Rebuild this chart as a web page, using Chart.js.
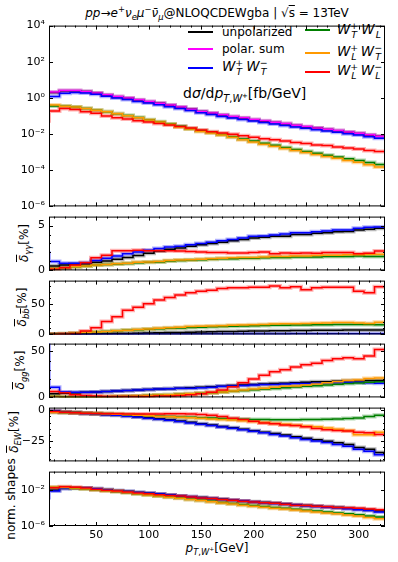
<!DOCTYPE html>
<html>
<head>
<meta charset="utf-8">
<script src="https://cdn.jsdelivr.net/npm/chart.js@4.4.1/dist/chart.umd.min.js"></script>
<style>
  body { margin: 0; background: #fff; }
  #fig { position: relative; width: 398px; height: 562px; overflow: hidden; font-family: 'DejaVu Sans', sans-serif; color: #000; }
  #fig canvas { position: absolute; left: 0; }
  .txt { position: absolute; white-space: nowrap; line-height: 1; transform: translateY(-50%); }
  .math { font-size: 13.5px; }
  sub, sup { font-size: 70%; line-height: 0; }
  .ylab { position: absolute; white-space: nowrap; line-height: 1; transform: translate(-50%, -50%) rotate(-90deg); font-size: 12px; }
  .legline { position: absolute; height: 2px; width: 25px; }
</style>
</head>
<body>
<div id="fig">
  <div class="txt" style="left:49px; width:336px; top:13px; text-align:center; font-size:12px;">
    <i>pp</i>→<i>e</i><sup>+</sup><i>ν</i><sub><i>e</i></sub><i>μ</i><sup>−</sup><i>ν̄</i><sub><i>μ</i></sub>@NLOQCDEWgba | √<span style="text-decoration:overline">s</span> = 13TeV
  </div>

  <div class="legline" style="left:188px; top:31px; background:#000000;"></div>
  <div class="txt" style="left:222px; top:32px; font-size:12px;">unpolarized</div>
  <div class="legline" style="left:188px; top:48px; background:#ff00ff;"></div>
  <div class="txt" style="left:222px; top:49px; font-size:12px;">polar. sum</div>
  <div class="legline" style="left:188px; top:67px; background:#0000ff;"></div>
  <div class="txt math" style="left:222px; top:67px;"><i>W</i><sup>+</sup><sub style="margin-left:-7px"><i>T</i></sub> <i>W</i><sup>−</sup><sub style="margin-left:-7px"><i>T</i></sub></div>
  <div class="legline" style="left:305px; top:29px; background:#007f00;"></div>
  <div class="txt math" style="left:337px; top:30px;"><i>W</i><sup>+</sup><sub style="margin-left:-7px"><i>T</i></sub> <i>W</i><sup>−</sup><sub style="margin-left:-7px"><i>L</i></sub></div>
  <div class="legline" style="left:305px; top:52px; background:#ff9900;"></div>
  <div class="txt math" style="left:337px; top:52px;"><i>W</i><sup>+</sup><sub style="margin-left:-7px"><i>L</i></sub> <i>W</i><sup>−</sup><sub style="margin-left:-7px"><i>T</i></sub></div>
  <div class="legline" style="left:305px; top:71px; background:#ff0000;"></div>
  <div class="txt math" style="left:337px; top:71px;"><i>W</i><sup>+</sup><sub style="margin-left:-7px"><i>L</i></sub> <i>W</i><sup>−</sup><sub style="margin-left:-7px"><i>L</i></sub></div>

  <div class="txt" style="left:183px; top:93px; font-size:14px;">d<i>σ</i>/d<i>p</i><sub><i>T</i>,<i>W</i><sup>+</sup></sub>[fb/GeV]</div>

  <div class="ylab" style="left:24px; top:243px;"><span style="text-decoration:overline"><i>δ</i></span><sub><i>γγ</i></sub>[%]</div>
  <div class="ylab" style="left:22px; top:307px;"><span style="text-decoration:overline"><i>δ</i></span><sub><i>b</i><span style="text-decoration:overline"><i>b</i></span></sub>[%]</div>
  <div class="ylab" style="left:20px; top:370px;"><span style="text-decoration:overline"><i>δ</i></span><sub><i>gg</i></sub>[%]</div>
  <div class="ylab" style="left:14px; top:432px;"><span style="text-decoration:overline"><i>δ</i></span><sub><i>EW</i></sub>[%]</div>
  <div class="ylab" style="left:11px; top:499px;">norm. shapes</div>

  <div class="txt" style="left:49px; width:336px; top:548px; text-align:center; font-size:12px;"><i>p</i><sub><i>T</i>,<i>W</i><sup>+</sup></sub>[GeV]</div>
</div>
<script>
// bin edges in GeV (first bin lies left of the visible range)
const binEdges = [-5, 5, 15, 25, 35, 45, 55, 65, 75, 85, 95, 105, 115, 125, 135, 145, 155, 165,
  175, 185, 195, 205, 215, 225, 235, 245, 255, 265, 275, 285, 295, 305, 315, 325];
const xMajor = [50, 100, 150, 200, 250, 300];
const xMinor = [10, 20, 30, 40, 60, 70, 80, 90, 110, 120, 130, 140, 160, 170, 180, 190,
  210, 220, 230, 240, 260, 270, 280, 290, 310, 320];

const colors = {
  unpol: '#000000', polSum: '#ff00ff', TT: '#0000ff', TL: '#007f00', LT: '#ff9900', LL: '#ff0000'
};
const bands = {
  unpol: 'rgba(0,0,0,0.28)', polSum: 'rgba(255,0,255,0.3)', TT: 'rgba(0,0,255,0.3)',
  TL: 'rgba(0,127,0,0.3)', LT: 'rgba(255,153,0,0.35)', LL: 'rgba(255,0,0,0.3)'
};

// dsigma/dpT [fb/GeV]
const xsUnpol = [2.0, 2.0, 2.5, 2.5, 2.25, 1.85, 1.45, 1.17, 0.97, 0.76, 0.62, 0.5, 0.39, 0.3, 0.235, 0.175,
  0.143, 0.114, 0.092, 0.077, 0.063, 0.052, 0.044, 0.037, 0.030, 0.025, 0.0214, 0.018, 0.0154, 0.0128, 0.0109, 0.009, 0.0075];
const xsPolSum = [2.1, 2.1, 2.6, 2.6, 2.3, 1.9, 1.5, 1.2, 1.0, 0.78, 0.64, 0.51, 0.4, 0.31, 0.24, 0.18,
  0.147, 0.117, 0.095, 0.079, 0.065, 0.054, 0.045, 0.038, 0.031, 0.026, 0.022, 0.0185, 0.0158, 0.0132, 0.0112, 0.0093, 0.0077];
const xsTT = [1.2, 1.2, 1.8, 2.0, 1.9, 1.6, 1.25, 1.0, 0.82, 0.64, 0.52, 0.42, 0.33, 0.26, 0.2, 0.15,
  0.12, 0.095, 0.077, 0.064, 0.053, 0.044, 0.036, 0.03, 0.025, 0.021, 0.0175, 0.0148, 0.0125, 0.0105, 0.0088, 0.0072, 0.0058];
const xsTL = [0.36, 0.36, 0.35, 0.31, 0.26, 0.21, 0.17, 0.135, 0.105, 0.082, 0.063, 0.048, 0.036, 0.027, 0.02, 0.0152,
  0.0123, 0.0096, 0.0072, 0.0054, 0.0041, 0.0031, 0.0024, 0.0018, 0.0014, 0.0011, 0.00087, 0.00068, 0.00054, 0.00043, 0.00035, 0.00027, 0.00021];
const xsLT = [0.4, 0.4, 0.35, 0.31, 0.26, 0.21, 0.17, 0.134, 0.104, 0.081, 0.061, 0.047, 0.035, 0.025, 0.019, 0.014,
  0.0114, 0.0089, 0.0066, 0.0049, 0.0037, 0.0027, 0.0021, 0.0016, 0.00124, 0.00097, 0.00075, 0.00058, 0.00046, 0.00035, 0.00028, 0.0002, 0.00015];
const xsLL = [0.054, 0.19, 0.26, 0.23, 0.17, 0.14, 0.1, 0.081, 0.069, 0.054, 0.046, 0.038, 0.032, 0.026, 0.0215, 0.0166,
  0.0135, 0.0114, 0.0097, 0.0082, 0.0066, 0.0056, 0.0048, 0.0042, 0.0034, 0.003, 0.0025, 0.0023, 0.0019, 0.0017, 0.0015, 0.00124, 0.0011];

// photon-induced [%]
const gaUnpol = [0.5, 0.5, 0.6, 0.7, 0.75, 0.9, 1.05, 1.25, 1.45, 1.65, 1.9, 2.15, 2.35, 2.5, 2.7, 2.85, 3.0,
  3.15, 3.3, 3.45, 3.6, 3.7, 3.8, 3.8, 4.0, 4.0, 4.15, 4.2, 4.3, 4.35, 4.5, 4.6, 4.7];
const gaTT = [1.9, 1.0, 0.8, 0.8, 0.85, 1.1, 1.35, 1.6, 1.85, 2.05, 2.25, 2.45, 2.6, 2.7, 2.85, 3.0, 3.15,
  3.3, 3.45, 3.6, 3.8, 3.85, 3.95, 4.05, 4.2, 4.2, 4.3, 4.4, 4.5, 4.5, 4.7, 4.8, 4.85];
const gaTL = [0.2, 0.2, 0.3, 0.4, 0.5, 0.6, 0.65, 0.72, 0.78, 0.85, 0.9, 0.95, 1.05, 1.1, 1.15, 1.2, 1.25,
  1.3, 1.3, 1.35, 1.35, 1.4, 1.45, 1.45, 1.5, 1.5, 1.5, 1.55, 1.55, 1.55, 1.6, 1.55, 1.55];
const gaLT = [0.2, 0.2, 0.3, 0.4, 0.5, 0.6, 0.65, 0.75, 0.8, 0.9, 0.95, 1.0, 1.1, 1.15, 1.2, 1.25, 1.3,
  1.35, 1.4, 1.45, 1.45, 1.5, 1.55, 1.55, 1.6, 1.6, 1.65, 1.7, 1.7, 1.75, 1.75, 1.8, 1.8];
const gaLL = [0.14, 0.14, 0.3, 0.6, 0.85, 1.4, 1.7, 2.2, 2.2, 2.25, 2.2, 2.2, 2.2, 2.15, 2.1, 2.05, 2.0,
  2.0, 1.95, 1.95, 2.0, 2.05, 1.85, 1.95, 1.9, 1.95, 1.9, 2.0, 2.0, 2.0, 1.85, 1.9, 2.15];

// bottom-induced [%]
const bbUnpol = [0, 0, 0, 0.3, 0.5, 0.8, 1, 1.3, 1.6, 2, 2.3, 2.6, 3, 3.3, 3.6, 4, 4.3,
  4.6, 5, 5.2, 5.5, 5.7, 6, 6.2, 6.4, 6.6, 6.8, 7, 7, 7.2, 7.3, 7.3, 7.4];
const bbTT = [0.1, 0.1, 0.1, 0.15, 0.2, 0.25, 0.3, 0.35, 0.4, 0.45, 0.5, 0.5, 0.55, 0.6, 0.6, 0.65, 0.7,
  0.7, 0.75, 0.75, 0.8, 0.8, 0.85, 0.85, 0.9, 0.9, 0.9, 0.95, 0.95, 1.0, 1.0, 1.0, 1.0];
const bbTL = [0.5, 0.5, 1, 2, 3, 4, 5, 6, 6.8, 7.6, 8.4, 9.2, 10, 10.7, 11.3, 12, 12.5,
  13, 13.5, 14, 14.5, 14.8, 15, 15.3, 15.5, 15.7, 16, 16, 16.2, 16.3, 16.3, 16.2, 16];
const bbLT = [0.5, 0.5, 1, 2, 3, 4, 5, 6, 7, 8, 9, 10, 11, 12, 13, 13.5, 14,
  14.5, 15, 15.5, 16, 16.5, 17, 17.5, 17.5, 18, 18.5, 19, 19.5, 19.5, 19, 18, 20];
const bbLL = [0, 0, 0.5, 1.5, 5.7, 11, 21.5, 29, 40, 45, 50.5, 57, 61, 65, 69, 71.5, 73,
  76, 77, 77, 78, 78, 80, 77, 79, 74, 77, 78, 78, 78, 71.5, 69, 79];

// gluon-induced [%]
const ggUnpol = [4, 4, 4.5, 5, 5.5, 6, 6.5, 7, 7.5, 8, 8.5, 9, 9.5, 10, 10.5, 11, 11.5,
  12, 13, 13.5, 14, 14.5, 15, 15.5, 16, 16.5, 17, 17, 17.5, 18, 18, 18.5, 18.5];
const ggTT = [60, 11, 6, 5.5, 5.5, 6, 6.5, 7, 7.5, 8, 8.5, 9, 9.5, 10, 10, 10.5, 11,
  12, 12.5, 13, 13.5, 14, 14, 14.5, 15, 15, 15.5, 16, 16, 16.5, 16.5, 16, 15.5];
const ggTL = [1, 1, 0.5, 0.5, 0.5, 0.5, 0.8, 1, 1.2, 1.5, 2, 2.5, 3, 3.5, 4, 4.5, 5,
  5.8, 6.6, 7.4, 8.2, 9, 9.8, 10.5, 11.2, 12, 12.7, 13.5, 14.2, 15, 15.7, 16.5, 17];
const ggLT = [1, 1, 0.5, 0.5, 0.5, 0.5, 0.8, 1, 1.2, 1.5, 2, 2.5, 3, 3.5, 4, 4.5, 5,
  6, 7, 8, 9, 10, 11, 12, 12.5, 13.5, 14.5, 16, 17, 18.5, 19, 20.5, 21];
const ggLL = [7, 6.5, 5, 3, 2, 1.5, 1, 1, 1, 1, 1, 1.5, 1.5, 2, 3, 4, 5.5,
  8, 11.5, 16, 20, 24, 28, 30, 33, 35.5, 37, 40, 42, 43, 42, 45, 52];

// electroweak corrections [%]
const ewUnpol = [-0.5, -0.5, -1.2, -1.8, -2.3, -2.8, -3.3, -3.8, -4.5, -5.2, -6, -6.8, -7.7, -8.7, -9.8, -11, -12,
  -13.2, -14.3, -15.5, -16.7, -17.9, -19.1, -20.3, -21.6, -23, -24.2, -25.4, -26.7, -28, -30.5, -32, -34.6];
const ewTT = [-0.8, -0.8, -1.5, -2, -2.5, -3, -3.5, -4, -4.8, -5.5, -6.5, -7.3, -8.2, -9.2, -10.3, -11.5, -12.5,
  -13.7, -14.8, -16, -17.2, -18.5, -19.8, -21, -22.5, -24, -25.2, -26.5, -28, -29.5, -32, -33.6, -36.5];
const ewTL = [-1.5, -1.5, -1.8, -2, -2.3, -2.5, -2.8, -3.2, -3.5, -4, -4.4, -4.8, -5.1, -5.4, -5.7, -6, -6.3,
  -6.6, -6.9, -7.2, -7.4, -7.6, -7.7, -7.8, -7.8, -7.6, -7.5, -7.3, -7, -6.7, -6.2, -5, -4];
const ewLT = [-1.5, -1.5, -1.8, -2, -2.3, -2.5, -2.8, -3.2, -3.5, -4, -4.5, -5, -5.3, -5.7, -6, -6.5, -7,
  -7.5, -8, -8.5, -9.2, -10, -10.7, -11.5, -12.2, -13, -13.5, -14.5, -15.5, -16.5, -20, -20, -18];
const ewLL = [-1, -1, -1.5, -2, -2.3, -2.5, -2.7, -2.8, -2.9, -3, -3, -3, -2.8, -2.8, -3, -3.4, -4,
  -5, -6.5, -7.5, -9, -10.4, -11, -12, -12.5, -13.5, -15, -16, -16.5, -17, -18, -18.5, -19.8];

// normalised shapes
const shUnpol = [0.009, 0.009, 0.015, 0.016, 0.015, 0.0126, 0.01, 0.0079, 0.0063, 0.005, 0.004, 0.0033, 0.0027, 0.0021, 0.0017, 0.0014, 0.0011,
  8.8e-4, 7.1e-4, 5.8e-4, 4.7e-4, 3.9e-4, 3.2e-4, 2.6e-4, 2.2e-4, 1.85e-4, 1.55e-4, 1.3e-4, 1.1e-4, 9e-5, 7.3e-5, 6e-5, 4.5e-5];
const shTT = [1.4e-3, 0.0071, 0.0141, 0.0158, 0.0151, 0.0126, 0.01, 0.0079, 0.0063, 0.005, 0.004, 0.0033, 0.0027, 0.0021, 0.0017, 0.0013, 0.00107,
  8.5e-4, 6.8e-4, 5.6e-4, 4.5e-4, 3.7e-4, 3.0e-4, 2.5e-4, 2.1e-4, 1.74e-4, 1.45e-4, 1.2e-4, 1.0e-4, 7.9e-5, 6.3e-5, 5.0e-5, 3.5e-5];
const shTL = [0.018, 0.018, 0.0175, 0.015, 0.0126, 0.01, 0.008, 0.0064, 0.0049, 0.0037, 0.0028, 0.0021, 0.0016, 0.0012, 9e-4, 6.9e-4, 5.3e-4,
  4.0e-4, 3.1e-4, 2.4e-4, 1.8e-4, 1.4e-4, 1.1e-4, 8.8e-5, 7e-5, 5.5e-5, 4.4e-5, 3.5e-5, 2.8e-5, 2.2e-5, 1.7e-5, 1.3e-5, 1.0e-5];
const shLT = [0.019, 0.019, 0.0178, 0.0151, 0.0126, 0.01, 0.0079, 0.0063, 0.0048, 0.0035, 0.0027, 0.002, 0.0015, 0.00112, 8.3e-4, 6.3e-4, 4.7e-4,
  3.5e-4, 2.7e-4, 2.0e-4, 1.5e-4, 1.17e-4, 9.3e-5, 7.4e-5, 5.9e-5, 4.5e-5, 3.5e-5, 2.8e-5, 2.2e-5, 1.66e-5, 1.26e-5, 8.9e-6, 6.3e-6];
const shLL = [0.0162, 0.0162, 0.0209, 0.0191, 0.0151, 0.0112, 0.0089, 0.0071, 0.0056, 0.0045, 0.0035, 0.0028, 0.0023, 0.002, 0.0016, 0.00126, 0.00105,
  8.3e-4, 6.8e-4, 5.4e-4, 4.4e-4, 3.6e-4, 3.2e-4, 2.5e-4, 2.0e-4, 1.8e-4, 1.5e-4, 1.3e-4, 1.1e-4, 1.0e-4, 8.9e-5, 7.6e-5, 6.3e-5];

const panels = [
  { top: 24, bottom: 208, type: 'logarithmic', min: 1e-6, max: 1e4,
    ticks: [1e4, 1e2, 1, 1e-2, 1e-4, 1e-6], minor: [],
    series: [['unpol', xsUnpol], ['polSum', xsPolSum], ['TT', xsTT], ['TL', xsTL], ['LT', xsLT], ['LL', xsLL]] },
  { top: 215, bottom: 272, type: 'linear', min: 0, max: 6,
    ticks: [0, 5], minor: [1, 2, 3, 4],
    series: [['unpol', gaUnpol], ['TT', gaTT], ['TL', gaTL], ['LT', gaLT], ['LL', gaLL]] },
  { top: 279, bottom: 336, type: 'linear', min: 0, max: 89,
    ticks: [0, 50], minor: [10, 20, 30, 40, 60, 70, 80],
    series: [['unpol', bbUnpol], ['TT', bbTT], ['TL', bbTL], ['LT', bbLT], ['LL', bbLL]] },
  { top: 342, bottom: 399, type: 'linear', min: 0, max: 58.5,
    ticks: [0, 50], minor: [10, 20, 30, 40],
    series: [['unpol', ggUnpol], ['TT', ggTT], ['TL', ggTL], ['LT', ggLT], ['LL', ggLL]] },
  { top: 406, bottom: 463, type: 'linear', min: -42, max: 2.3,
    ticks: [0, -25], minor: [-5, -10, -15, -20, -30, -35, -40],
    series: [['unpol', ewUnpol], ['TT', ewTT], ['TL', ewTL], ['LT', ewLT], ['LL', ewLL]] },
  { top: 470, bottom: 526, type: 'logarithmic', min: 1e-6, max: 1,
    ticks: [1e-2, 1e-6], minor: [],
    series: [['unpol', shUnpol], ['TT', shTT], ['TL', shTL], ['LT', shLT], ['LL', shLL]] }
];

const SUP = { '0': '⁰', '1': '¹', '2': '²', '3': '³', '4': '⁴', '5': '⁵', '6': '⁶', '-': '⁻' };
function fmtTick(v, type) {
  if (type === 'logarithmic') {
    const e = String(Math.round(Math.log10(v)));
    return '10' + e.split('').map(c => SUP[c]).join('');
  }
  return v < 0 ? '\u2212' + Math.abs(v) : String(v);
}

function stepData(vals) {
  const pts = vals.map((v, i) => ({ x: binEdges[i], y: v }));
  pts.push({ x: binEdges[vals.length], y: vals[vals.length - 1] });
  return pts;
}

function framePlugin(panel) {
  return {
    id: 'frame',
    afterDatasetsDraw(chart) {
      const { ctx, chartArea: a, scales: { x, y } } = chart;
      ctx.save();
      ctx.strokeStyle = '#000';
      ctx.lineWidth = 1;
      ctx.strokeRect(a.left + 0.5, a.top + 0.5, a.right - a.left - 1, a.bottom - a.top - 1);
      ctx.beginPath();
      const xt = (v, len) => {
        const p = Math.round(x.getPixelForValue(v)) + 0.5;
        ctx.moveTo(p, a.bottom); ctx.lineTo(p, a.bottom - len);
        ctx.moveTo(p, a.top); ctx.lineTo(p, a.top + len);
      };
      const yt = (v, len) => {
        const p = Math.round(y.getPixelForValue(v)) + 0.5;
        ctx.moveTo(a.left, p); ctx.lineTo(a.left + len, p);
        ctx.moveTo(a.right, p); ctx.lineTo(a.right - len, p);
      };
      xMajor.forEach(v => xt(v, 4));
      xMinor.forEach(v => xt(v, 2));
      panel.ticks.forEach(v => yt(v, 4));
      panel.minor.forEach(v => yt(v, 2));
      ctx.stroke();
      ctx.restore();
    }
  };
}

const fig = document.getElementById('fig');
const tickFont = { family: "'DejaVu Sans', sans-serif", size: 11 };

panels.forEach((panel, idx) => {
  const last = idx === panels.length - 1;
  const pad = 9;
  const xAxisH = last ? 18 : 0;
  const canvas = document.createElement('canvas');
  canvas.width = 398;
  canvas.height = panel.bottom - panel.top + 2 * pad + xAxisH;
  canvas.style.top = (panel.top - pad) + 'px';
  fig.appendChild(canvas);

  const datasets = [];
  panel.series.forEach(([key, vals], i) => {
    datasets.push({
      data: stepData(vals), stepped: true, borderColor: bands[key], borderWidth: 4,
      pointRadius: 0, fill: false, order: 20 - i
    });
    datasets.push({
      data: stepData(vals), stepped: true, borderColor: colors[key], borderWidth: 1.5,
      pointRadius: 0, fill: false, order: 10 - i
    });
  });

  new Chart(canvas, {
    type: 'line',
    data: { datasets },
    options: {
      responsive: false,
      animation: false,
      devicePixelRatio: 1,
      layout: { padding: { left: 0, right: 13, top: pad, bottom: pad } },
      plugins: { legend: { display: false }, tooltip: { enabled: false } },
      elements: { line: { tension: 0 }, point: { radius: 0 } },
      scales: {
        x: {
          type: 'linear', min: 5, max: 325, display: last,
          grid: { display: false, drawTicks: false }, border: { display: false },
          afterBuildTicks: s => { s.ticks = xMajor.map(v => ({ value: v })); },
          afterFit: s => { s.height = xAxisH; },
          ticks: { font: tickFont, color: '#000', padding: 3, maxRotation: 0, autoSkip: false }
        },
        y: {
          type: panel.type, min: panel.min, max: panel.max,
          grid: { display: false, drawTicks: false }, border: { display: false },
          afterBuildTicks: s => { s.ticks = panel.ticks.map(v => ({ value: v })); },
          afterFit: s => { s.width = 49; },
          ticks: { font: tickFont, color: '#000', padding: 4, autoSkip: false,
                   callback: v => fmtTick(v, panel.type) }
        }
      }
    },
    plugins: [framePlugin(panel)]
  });
});
</script>
</body>
</html>
